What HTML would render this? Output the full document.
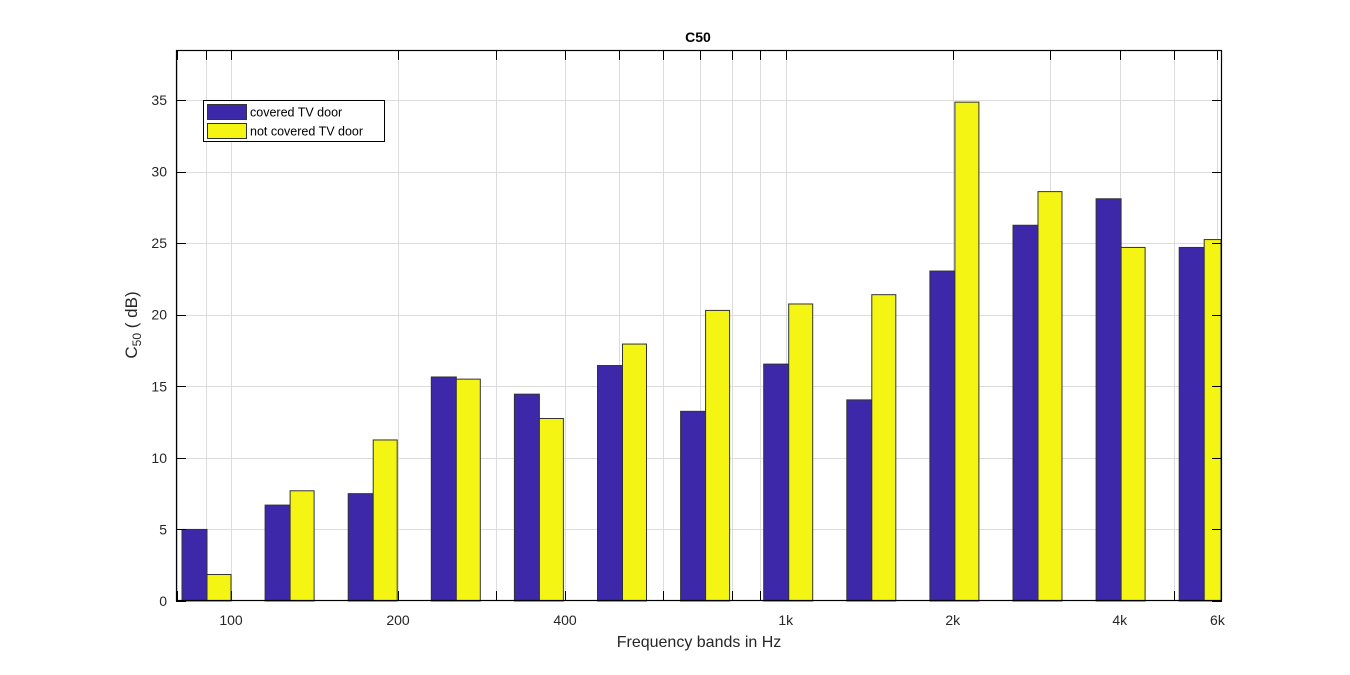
<!DOCTYPE html>
<html><head><meta charset="utf-8"><style>
html,body{margin:0;padding:0;background:#fff;}
svg{display:block;font-family:"Liberation Sans",Arial,sans-serif;}
</style></head><body>
<svg id="chart" width="1350" height="675" viewBox="0 0 1350 675">
<rect x="0" y="0" width="1350" height="675" fill="#ffffff"/>
<rect x="176" y="50" width="1046" height="551" fill="#ffffff"/>
<g id="grid"></g>
<g id="bars"></g>
<g id="axes"></g>
<text x="698" y="42" text-anchor="middle" font-size="14" font-weight="bold" fill="#000">C50</text>
<text x="699" y="647" text-anchor="middle" font-size="16" fill="#262626">Frequency bands in Hz</text>
<text transform="translate(137,325) rotate(-90)" text-anchor="middle" font-size="17" fill="#262626">C<tspan font-size="12" dy="4">50</tspan><tspan dy="-4"> ( dB)</tspan></text>
<g>
<rect x="203.5" y="100.5" width="181" height="41" fill="#fff" stroke="#000" stroke-width="1"/>
<rect x="207.5" y="104.5" width="39" height="15" fill="#3c28a8" stroke="#333"/>
<text x="250" y="116.5" font-size="12.5" fill="#000">covered TV door</text>
<rect x="207.5" y="123.5" width="39" height="15" fill="#f5f514" stroke="#333"/>
<text x="250" y="135.5" font-size="12.5" fill="#000">not covered TV door</text>
</g>
</svg>
<script>
const bands = ["b1","b2","b3","b4","b5","b6","b7","b8","b9","b10","b11","b12","b13"];
const coveredValues = [5.0, 6.7, 7.5, 15.65, 14.45, 16.45, 13.25, 16.55, 14.05, 23.05, 26.25, 28.1, 24.7];
const notCoveredValues = [1.85, 7.7, 11.25, 15.5, 12.75, 17.95, 20.3, 20.75, 21.4, 34.85, 28.6, 24.7, 25.25];
const yTicks = [0, 5, 10, 15, 20, 25, 30, 35];
const xTickFreqs = [100, 200, 400, 1000, 2000, 4000, 6000];
const xTickLabels = ["100", "200", "400", "1k", "2k", "4k", "6k"];
const gridFreqs = [80, 90, 100, 200, 300, 400, 500, 600, 700, 800, 900, 1000, 2000, 3000, 4000, 5000, 6000];

const NS = "http://www.w3.org/2000/svg";
const L = 176, R = 1222, T = 50, B = 601;
const yMax = (B - T) / ((B - 100) / 35);
function yS(v){ return B - v / yMax * (B - T); }
function fS(f){ return 231 + Math.log2(f / 100) * 167; }
function iS(i){ return 207 + i * 83.1; }
function mk(tag, attrs, parent){ const e = document.createElementNS(NS, tag); for (const k in attrs) e.setAttribute(k, attrs[k]); parent.appendChild(e); return e; }

const grid = document.getElementById('grid');
const bars = document.getElementById('bars');
const axes = document.getElementById('axes');

yTicks.forEach(v => {
  const y = Math.round(yS(v)) + 0.5;
  if (v > 0) {
    const g = mk('line', {x1: L, x2: R, y1: y, y2: y, stroke: '#dcdcdc', 'stroke-width': 1}, grid);
    
    
  }
  const t1 = mk('line', {x1: L, x2: L + 10, y1: y, y2: y, stroke: '#000'}, axes);
  
  
  const t2 = mk('line', {x1: R - 10, x2: R, y1: y, y2: y, stroke: '#000'}, axes);
  
  
  const tx = mk('text', {x: 167, y: yS(v) + 5, 'text-anchor': 'end', 'font-size': 14, fill: '#262626'}, axes);
  tx.textContent = v;
  
  
});

gridFreqs.forEach(f => {
  const x = Math.round(fS(f)) + 0.5;
  if (x < L || x > R) return;
  const g = mk('line', {x1: x, x2: x, y1: T, y2: B, stroke: '#dcdcdc', 'stroke-width': 1}, grid);
  
  
  const t1 = mk('line', {x1: x, x2: x, y1: T, y2: T + 10, stroke: '#000'}, axes);
  
  
  const t2 = mk('line', {x1: x, x2: x, y1: B - 10, y2: B, stroke: '#000'}, grid);
  
  
});

xTickFreqs.forEach((f, i) => {
  const tx = mk('text', {x: fS(f), y: 625, 'text-anchor': 'middle', 'font-size': 14, fill: '#262626'}, axes);
  tx.textContent = xTickLabels[i];
  
  
});

const bw = 25;
bands.forEach((b, i) => {
  const c = iS(i);
  let x0 = Math.max(L + 1, c - bw), x1 = c;
  const yb = yS(coveredValues[i]);
  const r1 = mk('rect', {x: x0, y: yb, width: x1 - x0, height: B - yb, fill: '#3c28a8', stroke: '#333', 'stroke-width': 1}, bars);
  
  
  let x2 = Math.min(R - 1, c + bw - 1);
  const yy = yS(notCoveredValues[i]);
  const r2 = mk('rect', {x: c, y: yy, width: x2 - c, height: B - yy, fill: '#f5f514', stroke: '#333', 'stroke-width': 1}, bars);
  
  
});

const frame = mk('rect', {x: L + 0.5, y: T + 0.5, width: R - L - 1, height: B - T - 1, fill: 'none', stroke: '#000', 'stroke-width': 1.2}, axes);


</script>
</body></html>
